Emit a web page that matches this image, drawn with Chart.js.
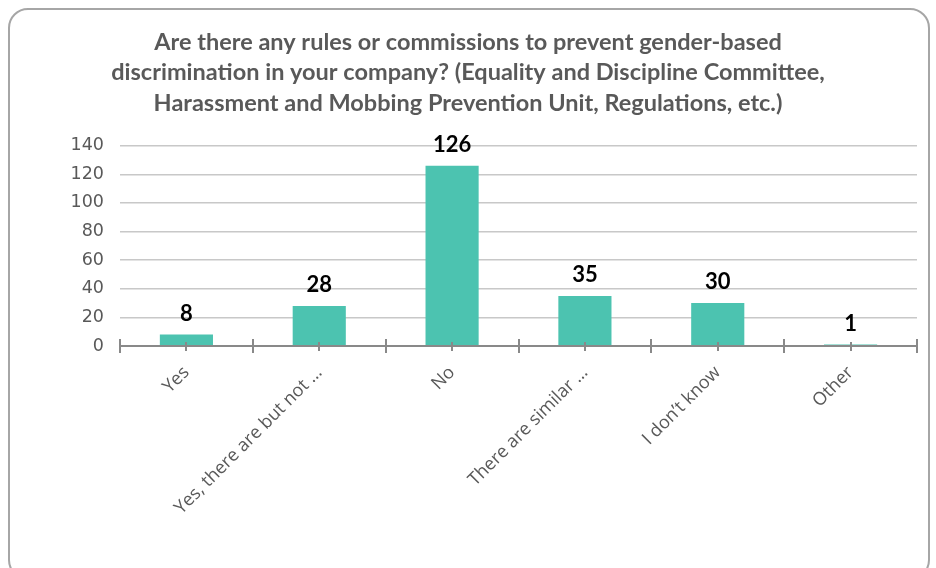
<!DOCTYPE html>
<html>
<head>
<meta charset="utf-8">
<script src="https://cdn.jsdelivr.net/npm/chart.js@4.4.1/dist/chart.umd.min.js"></script>
<style>
  html, body { margin: 0; padding: 0; background: #ffffff; }
  #wrap { position: relative; width: 936px; height: 568px; overflow: hidden; }
  #frame { position: absolute; left: 8px; top: 8px; width: 922px; height: 572px; border: 2px solid #A6A6A6; border-radius: 20px; box-sizing: border-box; }
  canvas { position: absolute; left: 0; top: 0; }
</style>
</head>
<body>
<div id="wrap">
  <div id="frame"></div>
  <canvas id="c" width="936" height="568"></canvas>
</div>
<script>
const categories = ["Yes", "Yes, there are but not \u2026", "No", "There are similar \u2026", "I don\u2019t know", "Other"];
const values = [8, 28, 126, 35, 30, 1];
const titleLines = [
  "Are there any rules or commissions to prevent gender-based",
  "discrimination in your company? (Equality and Discipline Committee,",
  "Harassment and Mobbing Prevention Unit, Regulations, etc.)"
];
const yTicks = [0, 20, 40, 60, 80, 100, 120, 140];

const barColor = "#4CC3B0";
const textGray = "#595959";

const valueLabels = {
  id: "valueLabels",
  afterDatasetsDraw(chart) {
    const ctx = chart.ctx;
    const meta = chart.getDatasetMeta(0);
    ctx.save();
    ctx.fillStyle = "#000000";
    ctx.font = "bold 22px Lato, 'Liberation Sans', sans-serif";
    ctx.textAlign = "center";
    ctx.textBaseline = "middle";
    meta.data.forEach((bar, i) => {
      ctx.fillText(String(values[i]), bar.x, bar.y - 21);
    });
    ctx.restore();
  }
};

const axisTicks = {
  id: "axisTicks",
  afterDatasetsDraw(chart) {
    const ctx = chart.ctx;
    const xs = chart.scales.x;
    const ys = chart.scales.y;
    const y0 = ys.getPixelForValue(0);
    ctx.save();
    ctx.strokeStyle = "#898989";
    ctx.lineWidth = 2;
    ctx.beginPath();
    ctx.moveTo(xs.left, y0);
    ctx.lineTo(xs.right, y0);
    ctx.stroke();
    const n = categories.length;
    const step = (xs.right - xs.left) / n;
    for (let i = 0; i <= n; i++) {
      const x = Math.round(xs.left + step * i);
      ctx.beginPath();
      ctx.moveTo(x, y0 - 7);
      ctx.lineTo(x, y0 + 7);
      ctx.stroke();
    }
    for (let i = 0; i < n; i++) {
      const x = Math.round(xs.getPixelForValue(i));
      ctx.beginPath();
      ctx.moveTo(x, y0 - 4);
      ctx.lineTo(x, y0 + 5);
      ctx.stroke();
    }
    ctx.restore();
  }
};

new Chart(document.getElementById("c"), {
  type: "bar",
  data: {
    labels: categories,
    datasets: [{
      data: values,
      backgroundColor: barColor,
      borderWidth: 0,
      barPercentage: 0.8,
      categoryPercentage: 0.5
    }]
  },
  options: {
    responsive: false,
    animation: false,
    devicePixelRatio: 1,
    layout: { padding: { left: 19, right: 19, top: 0, bottom: 0 } },
    plugins: {
      legend: { display: false },
      tooltip: { enabled: false },
      title: {
        display: true,
        text: titleLines,
        color: textGray,
        font: { family: "Lato, 'Liberation Sans', sans-serif", size: 23.5, weight: "bold", lineHeight: 1.3 },
        padding: { top: 27, bottom: 27 }
      }
    },
    scales: {
      y: {
        min: 0,
        max: 140,
        afterBuildTicks(scale) { scale.ticks = yTicks.map(v => ({ value: v })); },
        afterFit(scale) { scale.width = 101; },
        border: { display: false },
        grid: { color: "#C8C8C8", lineWidth: 1.5, drawTicks: false },
        ticks: {
          color: textGray,
          padding: 16,
          font: { family: "'DejaVu Sans', sans-serif", size: 17.5 }
        }
      },
      x: {
        afterFit(scale) { scale.height = 222; },
        border: { display: false },
        grid: { display: false, drawTicks: false },
        ticks: {
          color: textGray,
          padding: 16,
          minRotation: 45,
          maxRotation: 45,
          autoSkip: false,
          font: { family: "'Open Sans', sans-serif", size: 18 }
        }
      }
    }
  },
  plugins: [valueLabels, axisTicks]
});
</script>
</body>
</html>
